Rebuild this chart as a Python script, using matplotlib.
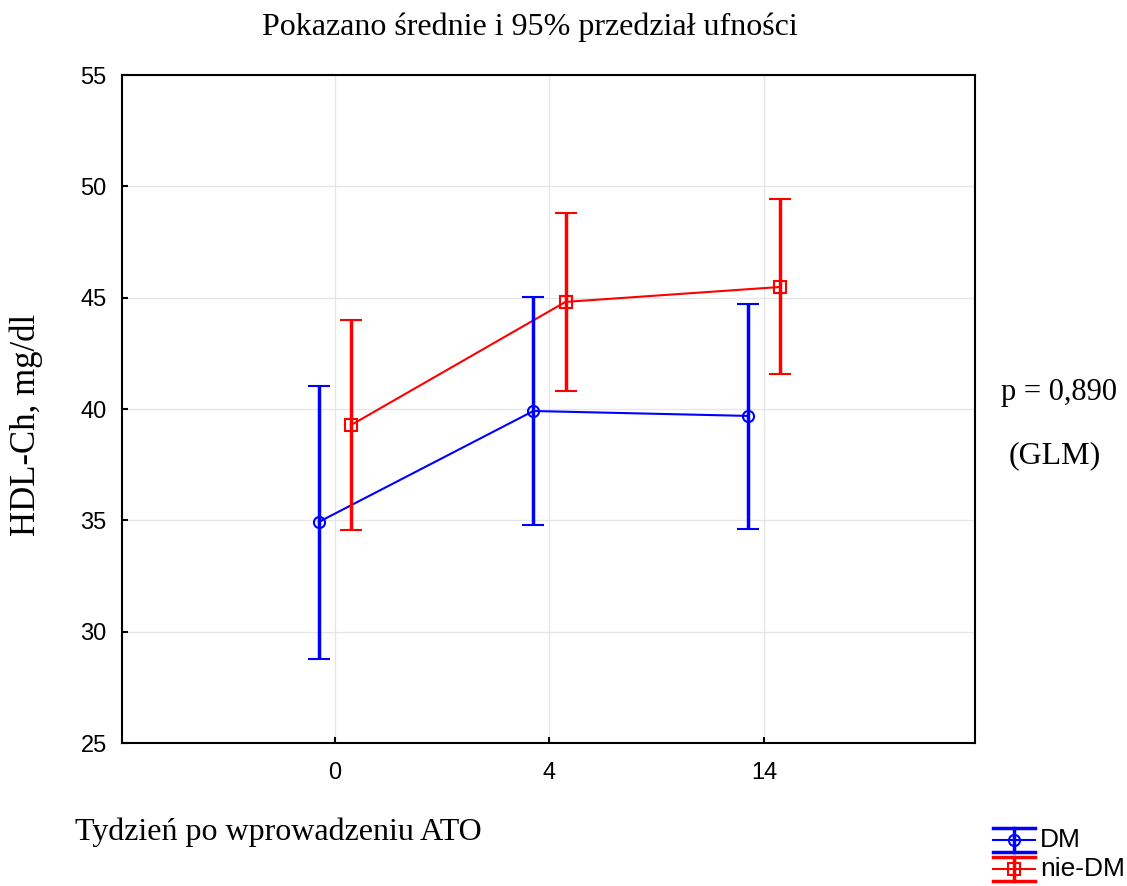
import matplotlib
matplotlib.use("Agg")
import matplotlib.pyplot as plt
from matplotlib.lines import Line2D
import numpy as np

categories = ["0", "4", "14"]
dm_mean = [34.93, 39.91, 39.69]
dm_low = [28.78, 34.80, 34.61]
dm_high = [41.03, 45.03, 44.72]
nd_mean = [39.28, 44.81, 45.48]
nd_low = [34.57, 40.81, 41.57]
nd_high = [44.00, 48.80, 49.43]
series_labels = ["DM", "nie-DM"]

serif = "Liberation Serif"
sans = "Liberation Sans"
W, H = 1127, 886

fig = plt.figure(figsize=(W/100, H/100), dpi=100)
ax = fig.add_axes([122/W, 1-743/H, (975-122)/W, (743-75)/H])

x = np.arange(len(categories))
off = 0.075
BLUE, RED = "#0000ff", "#ff0000"

def draw(xs, mean, low, high, color, marker):
    mean = np.array(mean); low = np.array(low); high = np.array(high)
    ax.plot(xs, mean, color=color, lw=1.5, zorder=3)
    ax.errorbar(xs, mean, yerr=[mean-low, high-mean], fmt=marker, color=color,
                mfc="none", mec=color, ms=8, mew=1.5, ecolor=color,
                elinewidth=2.5, capsize=8, capthick=2.5, zorder=4)

draw(x-off, dm_mean, dm_low, dm_high, BLUE, "o")
draw(x+off, nd_mean, nd_low, nd_high, RED, "s")

ax.set_xlim(-0.993, 2.984)
ax.set_ylim(25, 55)
ax.set_yticks([25, 30, 35, 40, 45, 50, 55])
ax.set_xticks(x)
ax.set_xticklabels(categories)
ax.grid(True, color="#e6e6e6", lw=1)
ax.set_axisbelow(True)
ax.tick_params(direction="in", length=4, width=1.5, labelsize=17)
ax.tick_params(axis="y", pad=11)
ax.tick_params(axis="x", pad=14)
for lab in ax.get_xticklabels() + ax.get_yticklabels():
    lab.set_fontfamily(sans)
for s in ax.spines.values():
    s.set_linewidth(1.5)
    s.set_color("black")

fs = 23
fig.text(530/W, 1-27/H, "Pokazano średnie i 95% przedział ufności", ha="center", va="center",
         family=serif, fontsize=fs)
fig.text(26/W, 1-425/H, "HDL-Ch, mg/dl", rotation=90, ha="center", va="center",
         family=serif, fontsize=25)
fig.text(75/W, 1-832/H, "Tydzień po wprowadzeniu ATO", ha="left", va="center",
         family=serif, fontsize=fs)
fig.text(1059/W, 1-392/H, "p = 0,890", ha="center", va="center", family=serif, fontsize=22)
fig.text(1055/W, 1-456/H, "(GLM)", ha="center", va="center", family=serif, fontsize=fs)

# legend drawn manually (errorbar-style handles)
def px(xp, yp):
    return (xp/W, 1-yp/H)

def legend_entry(yc, color, marker, label):
    x0, x1, xm = 993, 1035, 1014
    for dy in (-12, 0, 12):
        (a, b) = px(x0, yc+dy); (c, d) = px(x1, yc+dy)
        fig.add_artist(Line2D([a, c], [b, d], color=color, lw=2.5 if dy else 1.5,
                              transform=fig.transFigure))
    (a, b) = px(xm, yc-12); (c, d) = px(xm, yc+12)
    fig.add_artist(Line2D([a, c], [b, d], color=color, lw=2.5, transform=fig.transFigure))
    (a, b) = px(xm, yc)
    fig.add_artist(Line2D([a], [b], marker=marker, ms=8, mfc="none", mec=color, mew=1.5,
                          color=color, transform=fig.transFigure))
    (a, b) = px(1040, yc)
    fig.text(a, b, label, ha="left", va="center", family=sans, fontsize=19)

legend_entry(840, BLUE, "o", series_labels[0])
legend_entry(869, RED, "s", series_labels[1])

fig.savefig("out.png", dpi=100)
